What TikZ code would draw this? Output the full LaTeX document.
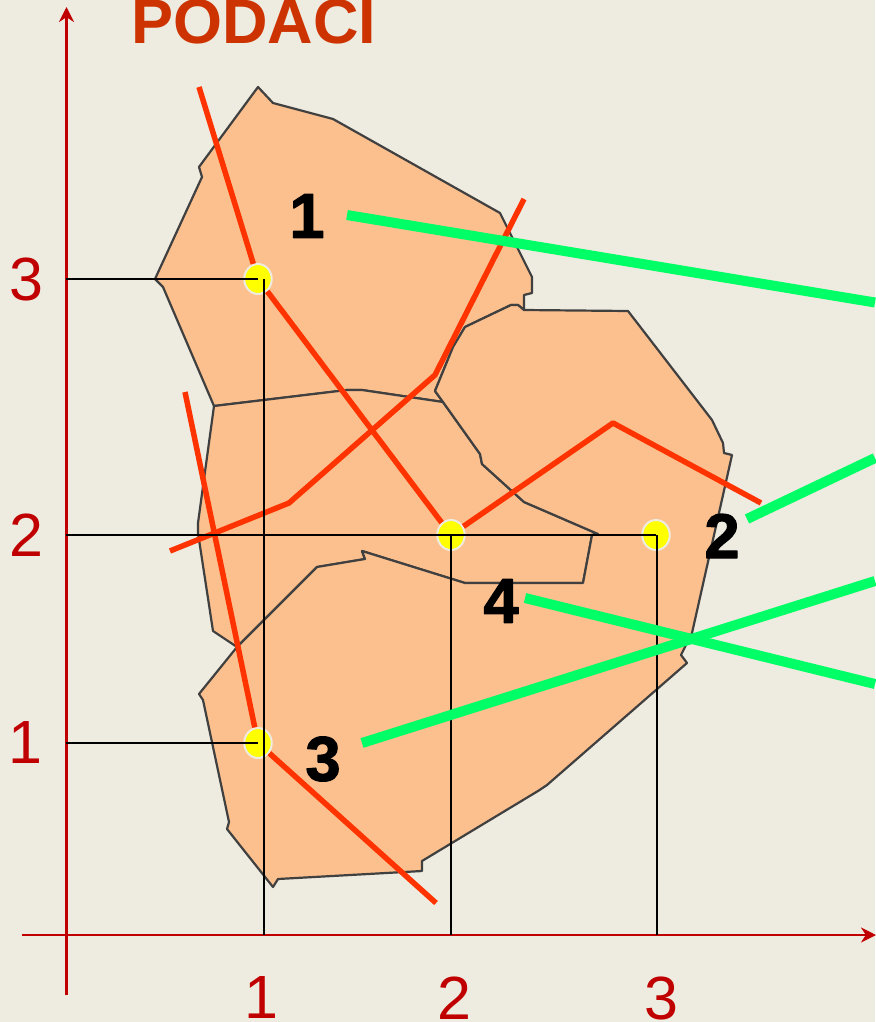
\documentclass[tikz,border=0pt]{standalone}
\usepackage{fontspec}
\setmainfont{Liberation Sans}
\newfontface\zonefont[FakeBold=2]{Liberation Sans Bold}
\usetikzlibrary{arrows.meta,shapes.geometric}
\definecolor{paper}{HTML}{EEEBE0}
\definecolor{region}{HTML}{FBC08E}
\definecolor{border}{HTML}{404040}
\definecolor{axisred}{HTML}{C00000}
\definecolor{titlered}{HTML}{CC3300}
\definecolor{rayred}{HTML}{FF3300}
\definecolor{raygreen}{HTML}{00FF66}
\definecolor{siteyellow}{HTML}{FFFF00}
\tikzset{
  regionshape/.style={fill=region,draw=border,line width=2.2pt},
  axisline/.style={draw=axisred,line width=2.5pt,-{Stealth[length=15pt,width=15pt]}},
  leader/.style={draw=black,line width=2pt,line cap=butt},
  redray/.style={draw=rayred,line width=5.5pt,line cap=butt,line join=round},
  greenray/.style={draw=raygreen,line width=10pt,line cap=butt},
  sitept/.style={ellipse,fill=siteyellow,draw=paper,line width=2pt,minimum width=27.5pt,minimum height=30pt,inner sep=0pt},
  ticklabel/.style={text=axisred,inner sep=0pt,font=\fontsize{61}{61}\selectfont},
  zonelabel/.style={text=black,inner sep=0pt,font=\fontsize{63}{63}\zonefont},
}
\begin{document}
\begin{tikzpicture}[x=1pt,y=-1pt,line join=round,>=Stealth]
  \useasboundingbox (0,0) rectangle (875,1022);
  \fill[paper] (0,0) rectangle (875,1022);
  % --- top region ---
  \path[regionshape] (258,87) -- (273,103) -- (333,119) -- (500,213) -- (532,277) -- (532,293)
    -- (524,295) -- (524,310) -- (518,305) -- (511,305) -- (465,327) -- (453,347) -- (435,391)
    -- (443,402) -- (362,390) -- (347,390) -- (214,406) -- (163,287) -- (155,279) -- (202,177)
    -- (199,167) -- cycle;
  % --- middle region ---
  \path[regionshape] (214,406) -- (347,390) -- (362,390) -- (443,402) -- (480,454) -- (482,464)
    -- (524,502) -- (598,534) -- (592,535) -- (583,583) -- (465,583) -- (362,551) -- (365,559)
    -- (317,567) -- (237,647) -- (213,631) -- (198,533) -- (198,523) -- cycle;
  % --- right and bottom region ---
  \path[regionshape] (435,391) -- (453,347) -- (465,327) -- (511,305) -- (518,305) -- (524,310)
    -- (628,311) -- (712,420) -- (723,443) -- (724,453) -- (732,455) -- (692,633) -- (681,655)
    -- (687,663) -- (547,785) -- (538,791) -- (422,861) -- (422,871) -- (278,879) -- (273,887)
    -- (227,829) -- (229,822) -- (203,700) -- (199,694) -- (237,647) -- (317,567) -- (365,559)
    -- (362,551) -- (465,583) -- (583,583) -- (592,535) -- (598,534) -- (524,502) -- (482,464)
    -- (480,454) -- (443,402) -- cycle;
  % --- sites ---
  \node[sitept] (siteA) at (258,279) {};
  \node[sitept] (siteB) at (451,535) {};
  \node[sitept] (siteC) at (656,535) {};
  \node[sitept] (siteD) at (258,743) {};
  % --- red boundaries ---
  \coordinate (redA) at (199,87);
  \coordinate (redB) at (524,199);
  \coordinate (redBa) at (435,375);
  \coordinate (redBb) at (289,503);
  \coordinate (redBc) at (170,551);
  \coordinate (redC) at (185,392);
  \coordinate (redD) at (436,903);
  \coordinate (redE) at (613,423);
  \coordinate (redF) at (761,503);
  \draw[redray] (redA) -- (siteA);
  \draw[redray] (siteA) -- (siteB);
  \draw[redray] (redB) -- (redBa) -- (redBb) -- (redBc);
  \draw[redray] (redC) -- (siteD);
  \draw[redray] (siteD) -- (redD);
  \draw[redray] (siteB) -- (redE) -- (redF);
  % --- axes ---
  \coordinate (yA) at (66.5,995);
  \coordinate (yB) at (66.5,7);
  \coordinate (xA) at (22,935);
  \coordinate (xB) at (876,935);
  \draw[axisline] (yA) -- (yB);
  \draw[axisline] (xA) -- (xB);
  % --- leader lines ---
  \coordinate (yThree) at (66,279);
  \coordinate (yTwo) at (66,535);
  \coordinate (yOne) at (66,743);
  \coordinate (topOne) at (264,279);
  \coordinate (xOne) at (264,935);
  \coordinate (xTwo) at (450.5,935);
  \coordinate (xThree) at (657,935);
  \draw[leader] (yThree) -- (siteA.center);
  \draw[leader] (yTwo) -- (siteC.center);
  \draw[leader] (yOne) -- (siteD.center);
  \draw[leader] (topOne) -- (xOne);
  \draw[leader] (450.5,535) -- (xTwo);
  \draw[leader] (657,535) -- (xThree);
  % --- green rays ---
  \coordinate (greenA) at (347,215);
  \coordinate (greenAa) at (875,302.5);
  \coordinate (greenB) at (747,519);
  \coordinate (greenBa) at (875,458);
  \coordinate (greenC) at (362,743);
  \coordinate (greenCa) at (875,581);
  \coordinate (greenD) at (525,598);
  \coordinate (greenDa) at (875,684);
  \draw[greenray] (greenA) -- (greenAa);
  \draw[greenray] (greenB) -- (greenBa);
  \draw[greenray] (greenC) -- (greenCa);
  \draw[greenray] (greenD) -- (greenDa);
  % --- labels ---
  \node[anchor=base west,inner sep=0pt,text=titlered,font=\fontsize{63}{63}\selectfont\bfseries] (title) at (131,44) {PODACI};
  \node[ticklabel] (tickyThree) at (26,279) {3};
  \node[ticklabel] (tickyTwo) at (26,535) {2};
  \node[ticklabel] (tickyOne) at (25,743) {1};
  \node[ticklabel] (tickxOne) at (261,998) {1};
  \node[ticklabel] (tickxTwo) at (454,998) {2};
  \node[ticklabel] (tickxThree) at (661,998) {3};
  \node[zonelabel] (zoneA) at (307,216) {1};
  \node[zonelabel] (zoneB) at (722,536) {2};
  \node[zonelabel] (zoneC) at (323,759) {3};
  \node[zonelabel] (zoneD) at (501,601) {4};
\end{tikzpicture}
\end{document}
